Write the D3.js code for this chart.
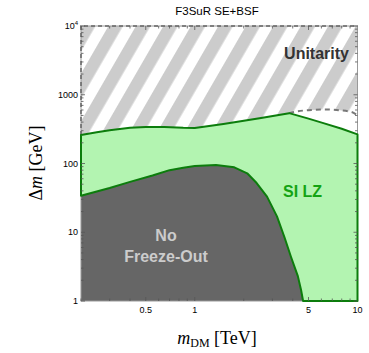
<!DOCTYPE html>
<html>
<head>
  <meta charset="UTF-8">
  <style>
    body { margin: 0; background: #fff; }
    text { font-family: "Liberation Sans", Arial, sans-serif; }
  </style>
</head>
<body>
<svg></svg>
<script src="https://d3js.org/d3.v7.min.js"></script>
<script>

let width = 369, height = 353;

// data (m_DM in TeV, Delta m in GeV)
let lzTopX = [0.2, 0.25, 0.3, 0.4, 0.5, 0.65, 0.85, 1.0, 1.5, 2.5, 3.8, 5, 6.1, 8, 10];
let lzTopY = [260, 285, 305, 330, 340, 340, 330, 328, 375, 455, 540, 450, 390, 320, 265];

let unitX = [3.8, 4.3, 5.2, 6.3, 7.8, 9.2, 10];
let unitY = [540, 575, 600, 612, 595, 560, 500];

let nfoX = [0.2, 0.3, 0.4, 0.55, 0.7, 0.85, 1.0, 1.35, 1.75, 2.1, 2.4, 2.78, 3.2, 3.55, 3.9, 4.3, 4.5, 4.63];
let nfoY = [34, 44, 54, 67, 80, 87, 92, 95, 88, 72, 52, 33, 17, 8.6, 4.4, 2.3, 1.45, 1];

let xTickVals = [0.5, 1, 5, 10];
let xTickLabels = ["0.5", "1", "5", "10"];
let yTickVals = [1, 10, 100, 1000, 10000];
let yTickLabels = ["1", "10", "100", "1000", "10^4"];

let svg = d3.select("svg")
    .attr("width", width)
    .attr("height", height);

let x = d3.scaleLog().domain([0.2, 10]).range([81, 357.5]);
let y = d3.scaleLog().domain([1, 10000]).range([301, 26]);

let xMin = 0.2, xMax = 10, yMin = 1, yMax = 10000;

// hatch pattern
let pat = svg.append("defs")
    .append("pattern")
    .attr("id", "hatch")
    .attr("patternUnits", "userSpaceOnUse")
    .attr("width", 23.8)
    .attr("height", 40)
    .attr("patternTransform", "translate(81,26) rotate(30)");
pat.append("rect")
    .attr("x", 0).attr("y", 0)
    .attr("width", 12.5).attr("height", 40)
    .attr("fill", "#cccccc");

let line = d3.line().x(d => x(d[0])).y(d => y(d[1]));

let lzTop = lzTopX.map((v, i) => [v, lzTopY[i]]);
let unit = unitX.map((v, i) => [v, unitY[i]]);
let nfo = nfoX.map((v, i) => [v, nfoY[i]]);

// unitarity (hatched) region
let peak = lzTop.findIndex(d => d[0] == unitX[0]);
let hatchPts = lzTop.slice(0, peak).concat(unit, [[xMax, yMax], [xMin, yMax]]);
svg.append("path")
    .attr("d", line(hatchPts) + "Z")
    .attr("fill", "url(#hatch)");

// SI LZ region
let lzPts = lzTop.concat([[xMax, yMin]], nfo.slice().reverse());
svg.append("path")
    .attr("d", line(lzPts) + "Z")
    .attr("fill", "#b3f4b1");

// no freeze-out region
let nfoPts = nfo.concat([[xMin, yMin]]);
svg.append("path")
    .attr("d", line(nfoPts) + "Z")
    .attr("fill", "#666666");

// frame
svg.append("rect")
    .attr("x", x(xMin)).attr("y", y(yMax))
    .attr("width", x(xMax) - x(xMin))
    .attr("height", y(yMin) - y(yMax))
    .attr("fill", "none")
    .attr("stroke", "#999")
    .attr("stroke-width", 1);

// dashed unitarity boundary
svg.append("path")
    .attr("d", line([[xMin, lzTopY[0]], [xMin, yMax], [xMax, yMax]]))
    .attr("fill", "none")
    .attr("stroke", "#666")
    .attr("stroke-width", 1.5)
    .attr("stroke-dasharray", "4,3");
svg.append("path")
    .attr("d", line.curve(d3.curveMonotoneX)(unit))
    .attr("fill", "none")
    .attr("stroke", "#777")
    .attr("stroke-width", 2)
    .attr("stroke-dasharray", "5,4");
line.curve(d3.curveLinear);

// SI LZ outline
svg.append("path")
    .attr("d", line(lzPts) + "Z")
    .attr("fill", "none")
    .attr("stroke", "#0c7d0c")
    .attr("stroke-width", 2)
    .attr("stroke-linejoin", "round");

// ticks
let xMinor = [];
[0.1, 1].forEach(b => { for (let k = 1; k < 10; k++) { let v = b * k; if (v >= xMin && v <= xMax) xMinor.push(v); } });
let yMinor = [];
[1, 10, 100, 1000].forEach(b => { for (let k = 2; k < 10; k++) yMinor.push(b * k); });

let ticks = svg.append("g").attr("stroke", "#555").attr("stroke-width", 0.8);
xMinor.forEach(v => {
    let len = xTickVals.includes(v) ? 4 : 2.5;
    ticks.append("line").attr("x1", x(v)).attr("x2", x(v)).attr("y1", y(yMin)).attr("y2", y(yMin) - len);
    ticks.append("line").attr("x1", x(v)).attr("x2", x(v)).attr("y1", y(yMax)).attr("y2", y(yMax) + len);
});
yTickVals.concat(yMinor).forEach(v => {
    let len = yTickVals.includes(v) ? 4 : 2.5;
    ticks.append("line").attr("x1", x(xMin)).attr("x2", x(xMin) + len).attr("y1", y(v)).attr("y2", y(v));
    ticks.append("line").attr("x1", x(xMax)).attr("x2", x(xMax) - len).attr("y1", y(v)).attr("y2", y(v));
});

// tick labels
svg.append("g").selectAll("text")
    .data(xTickVals)
    .enter()
    .append("text")
    .attr("x", d => x(d))
    .attr("y", 313)
    .attr("text-anchor", "middle")
    .attr("font-size", "9px")
    .text((d, i) => xTickLabels[i]);

svg.append("g").selectAll("text")
    .data(yTickVals)
    .enter()
    .append("text")
    .attr("x", 78)
    .attr("y", d => y(d) + 3)
    .attr("text-anchor", "end")
    .attr("font-size", "9px")
    .each(function(d, i) {
        let lab = yTickLabels[i];
        if (lab.includes("^")) {
            let p = lab.split("^");
            d3.select(this).append("tspan").text(p[0]);
            d3.select(this).append("tspan").attr("dy", -4).attr("font-size", "6px").text(p[1]);
        } else {
            d3.select(this).text(lab);
        }
    });

// title
svg.append("text")
    .attr("x", 217)
    .attr("y", 15)
    .attr("text-anchor", "middle")
    .attr("font-size", "11.5px")
    .text("F3SuR SE+BSF");

// axis titles
let xt = svg.append("text")
    .attr("x", 217)
    .attr("y", 344)
    .attr("text-anchor", "middle")
    .attr("font-family", "'Liberation Serif', 'DejaVu Serif', serif")
    .style("font-family", "'Liberation Serif', serif")
    .attr("font-size", "18px");
xt.append("tspan").attr("font-style", "italic").text("m");
xt.append("tspan").attr("font-size", "12px").attr("dy", 3).text("DM");
xt.append("tspan").attr("dy", -3).text(" [TeV]");

let yt = svg.append("text")
    .attr("transform", "translate(42,163) rotate(-90)")
    .attr("text-anchor", "middle")
    .style("font-family", "'Liberation Serif', serif")
    .attr("font-size", "18px");
yt.append("tspan").text("Δ");
yt.append("tspan").attr("font-style", "italic").text("m");
yt.append("tspan").text(" [GeV]");

// region labels
svg.append("text")
    .attr("x", 349).attr("y", 59)
    .attr("text-anchor", "end")
    .attr("font-size", "16px").attr("font-weight", "bold")
    .attr("fill", "#333")
    .text("Unitarity");

svg.append("text")
    .attr("x", 283).attr("y", 197)
    .attr("font-size", "16px").attr("font-weight", "bold")
    .attr("fill", "#13a313")
    .text("SI LZ");

svg.append("text")
    .attr("x", 166).attr("y", 241)
    .attr("text-anchor", "middle")
    .attr("font-size", "16px").attr("font-weight", "bold")
    .attr("fill", "#cccccc")
    .text("No");
svg.append("text")
    .attr("x", 166).attr("y", 262)
    .attr("text-anchor", "middle")
    .attr("font-size", "16px").attr("font-weight", "bold")
    .attr("fill", "#cccccc")
    .text("Freeze-Out");

</script>
</body>
</html>
